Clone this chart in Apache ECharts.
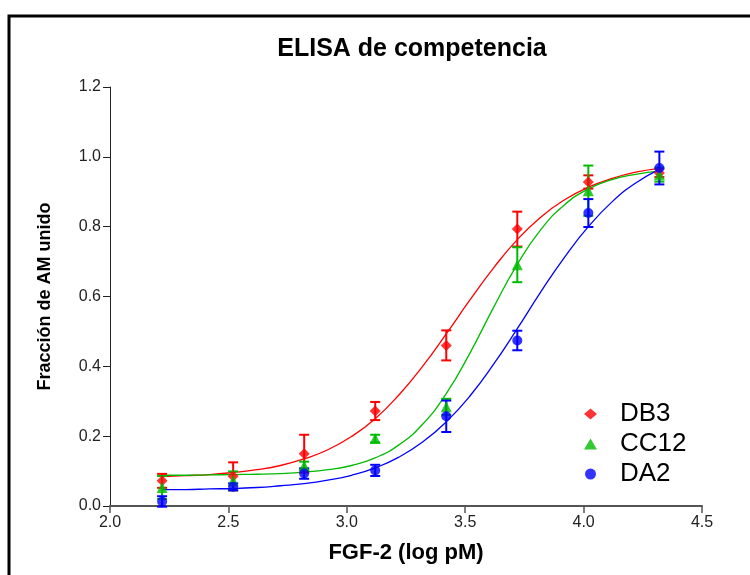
<!DOCTYPE html>
<html>
<head>
<meta charset="utf-8">
<script src="https://cdn.jsdelivr.net/npm/echarts@6/dist/echarts.min.js"></script>
<style>
  html, body { margin: 0; padding: 0; background: #fff; }
  #chart { width: 750px; height: 575px; }
</style>
</head>
<body>
<div id="chart"></div>
<script>
// FGF-2 concentrations (log pM)
const logConc = [2.22, 2.52, 2.82, 3.12, 3.42, 3.72, 4.02, 4.32];

// Mean bound fraction and SEM for each antibody
const db3Mean  = [0.072, 0.085, 0.150, 0.272, 0.460, 0.793, 0.928, 0.954];
const db3Err   = [0.020, 0.040, 0.054, 0.026, 0.043, 0.050, 0.019, 0.012];
const cc12Mean = [0.053, 0.072, 0.115, 0.193, 0.284, 0.691, 0.903, 0.949];
const cc12Err  = [0.033, 0.027, 0.012, 0.011, 0.023, 0.050, 0.072, 0.020];
const da2Mean  = [0.013, 0.055, 0.093, 0.102, 0.257, 0.474, 0.839, 0.968];
const da2Err   = [0.015, 0.010, 0.015, 0.016, 0.045, 0.028, 0.040, 0.047];

// Sigmoidal dose-response fits, sampled along log concentration
const fitX    = [2.22, 2.32, 2.42, 2.52, 2.62, 2.72, 2.82, 2.92, 3.02, 3.12, 3.22,
                 3.32, 3.42, 3.52, 3.62, 3.72, 3.82, 3.92, 4.02, 4.12, 4.22, 4.32];
const db3Fit  = [0.084, 0.087, 0.090, 0.096, 0.104, 0.116, 0.135, 0.161, 0.199, 0.250, 0.318,
                 0.400, 0.493, 0.590, 0.682, 0.763, 0.828, 0.877, 0.913, 0.938, 0.956, 0.967];
const cc12Fit = [0.088, 0.088, 0.089, 0.090, 0.091, 0.093, 0.097, 0.104, 0.116, 0.138, 0.175,
                 0.234, 0.322, 0.438, 0.569, 0.692, 0.792, 0.863, 0.908, 0.935, 0.950, 0.959];
const da2Fit  = [0.047, 0.047, 0.049, 0.050, 0.053, 0.058, 0.064, 0.074, 0.088, 0.109, 0.140,
                 0.183, 0.241, 0.315, 0.406, 0.508, 0.614, 0.713, 0.800, 0.871, 0.925, 0.964];

const seriesNames = ['DB3', 'CC12', 'DA2'];
const colors = ['#ff0000', '#00bb00', '#0000ff'];
const symbols = ['diamond', 'triangle', 'circle'];
const symbolSizes = [11, 11, 10];
const means = [db3Mean, cc12Mean, da2Mean];
const errs = [db3Err, cc12Err, da2Err];
const fits = [db3Fit, cc12Fit, da2Fit];

const font = 'Arial, "Liberation Sans", Helvetica, sans-serif';

function errorBarSeries(i) {
  return {
    type: 'custom',
    name: seriesNames[i] + ' SEM',
    z: 3,
    data: logConc.map((x, k) => [x, means[i][k] - errs[i][k], means[i][k] + errs[i][k]]),
    renderItem: function (params, api) {
      const top = api.coord([api.value(0), api.value(2)]);
      const bot = api.coord([api.value(0), api.value(1)]);
      const half = 5;
      const style = { stroke: colors[i], lineWidth: 2, fill: 'none' };
      return {
        type: 'group',
        children: [
          { type: 'line', shape: { x1: top[0], y1: top[1], x2: bot[0], y2: bot[1] }, style: style },
          { type: 'line', shape: { x1: top[0] - half, y1: top[1], x2: top[0] + half, y2: top[1] }, style: style },
          { type: 'line', shape: { x1: bot[0] - half, y1: bot[1], x2: bot[0] + half, y2: bot[1] }, style: style }
        ]
      };
    }
  };
}

const series = [];
seriesNames.forEach((n, i) => {
  series.push({
    type: 'line',
    name: n + ' ajuste',
    data: fitX.map((x, k) => [x, fits[i][k]]),
    smooth: true,
    showSymbol: false,
    z: 2,
    lineStyle: { color: colors[i], width: 1.3 },
    silent: true
  });
});
seriesNames.forEach((n, i) => series.push(errorBarSeries(i)));
seriesNames.forEach((n, i) => {
  series.push({
    type: 'scatter',
    name: n,
    data: logConc.map((x, k) => [x, means[i][k]]),
    symbol: symbols[i],
    symbolSize: symbolSizes[i],
    z: 4,
    itemStyle: { color: colors[i] }
  });
});

const chart = echarts.init(document.getElementById('chart'), null, { renderer: 'canvas' });
chart.setOption({
  animation: false,
  backgroundColor: '#ffffff',
  title: {
    text: 'ELISA de competencia',
    left: 407,
    textAlign: 'center',
    top: 32,
    textStyle: { fontFamily: font, fontSize: 25, fontWeight: 'bold', color: '#000' }
  },
  graphic: [{
    type: 'rect',
    shape: { x: 9, y: 16, width: 800, height: 620 },
    style: { fill: 'none', stroke: '#000', lineWidth: 3 },
    silent: true
  }],
  legend: {
    data: seriesNames,
    orient: 'vertical',
    left: 579,
    top: 396,
    itemWidth: 13,
    itemHeight: 11,
    itemGap: 4,
    textStyle: { fontFamily: font, fontSize: 26, color: '#000', padding: [0, 0, 0, 18] }
  },
  grid: { left: 110, right: 48, top: 87, bottom: 69 },
  xAxis: {
    type: 'value',
    min: 2.0,
    max: 4.5,
    interval: 0.5,
    name: 'FGF-2 (log pM)',
    nameLocation: 'middle',
    nameGap: 36,
    nameTextStyle: { fontFamily: font, fontSize: 22, fontWeight: 'bold', color: '#000' },
    axisLine: { lineStyle: { color: '#555', width: 2 } },
    axisTick: { length: 7, lineStyle: { color: '#555', width: 1.5 } },
    axisLabel: { fontFamily: font, fontSize: 16, color: '#222', margin: 9,
                 formatter: v => v.toFixed(1) },
    splitLine: { show: false }
  },
  yAxis: {
    type: 'value',
    min: 0,
    max: 1.2,
    interval: 0.2,
    name: 'Fracción de AM unido',
    nameLocation: 'middle',
    nameGap: 56,
    nameTextStyle: { fontFamily: font, fontSize: 18, fontWeight: 'bold', color: '#000' },
    axisLine: { show: true, lineStyle: { color: '#222', width: 1 } },
    axisTick: { show: true, length: 7, lineStyle: { color: '#222', width: 1 } },
    axisLabel: { fontFamily: font, fontSize: 16, color: '#222', margin: 9,
                 formatter: v => v.toFixed(1) },
    splitLine: { show: false }
  },
  series: series
});
</script>
</body>
</html>
